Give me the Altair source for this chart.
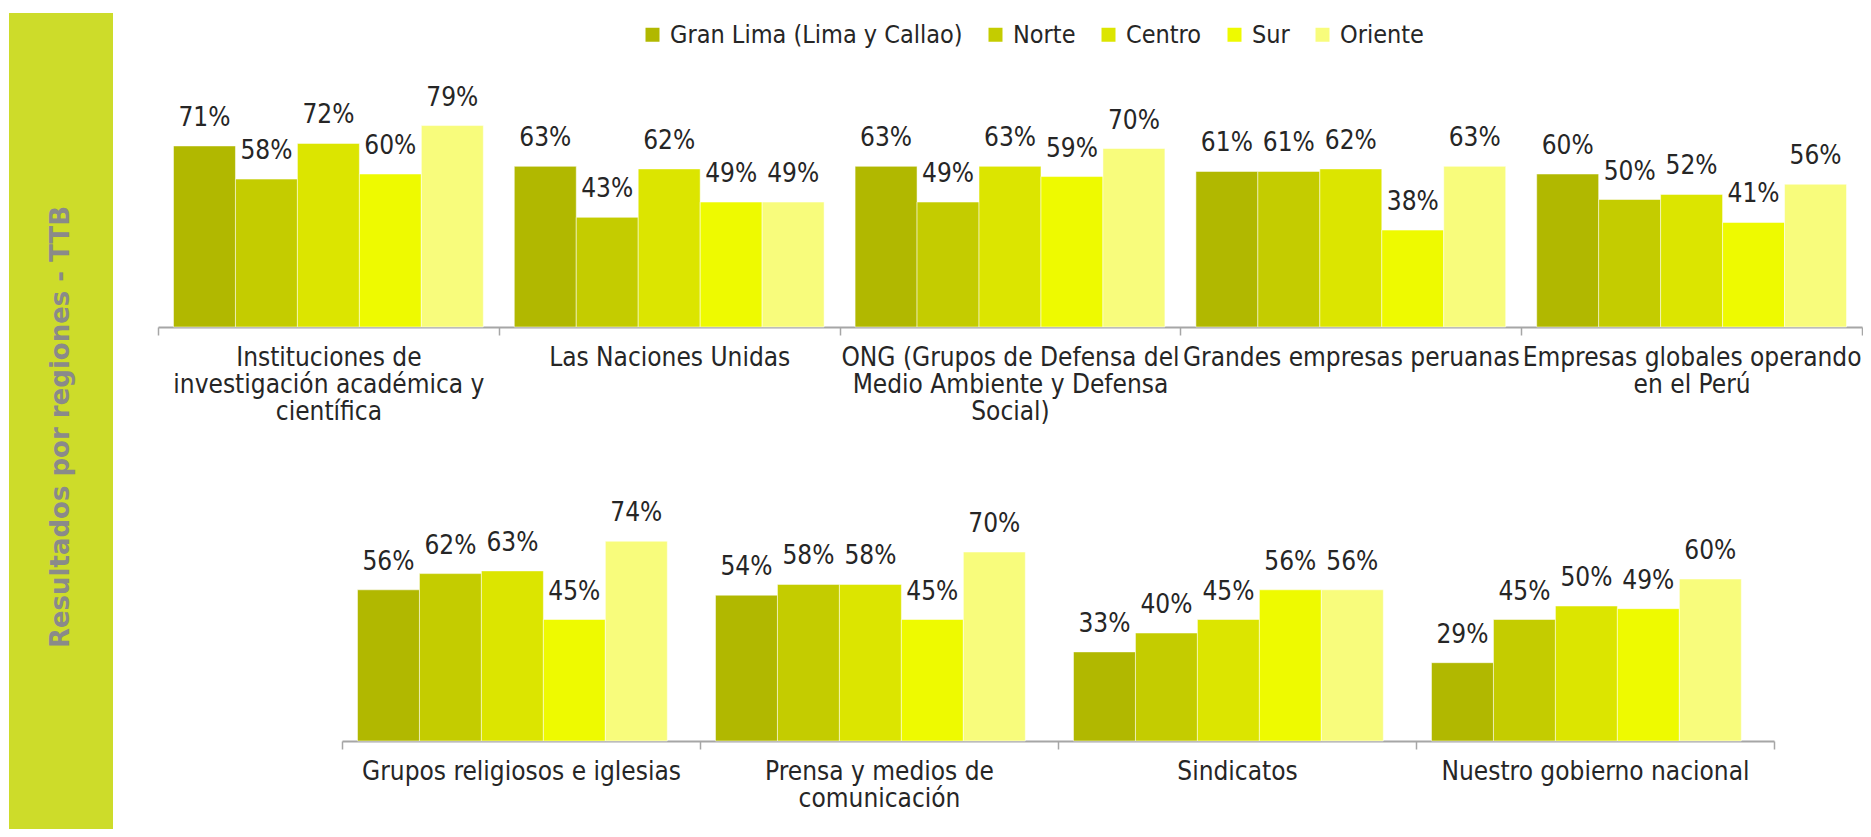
import altair as alt
import pandas as pd

FONT = "DejaVu Sans Condensed"
TXT = "#262626"
AX = "#A6A6A6"

regions = ["Gran Lima (Lima y Callao)", "Norte", "Centro", "Sur", "Oriente"]
colors = ["#B1B800", "#C4CC00", "#DCE500", "#EEFA00", "#F8FC7C"]

top_categories = [
    "Instituciones de|investigación académica y|científica",
    "Las Naciones Unidas",
    "ONG (Grupos de Defensa del|Medio Ambiente y Defensa|Social)",
    "Grandes empresas peruanas",
    "Empresas globales operando|en el Perú",
]
top_gran_lima = [71, 63, 63, 61, 60]
top_norte = [58, 43, 49, 61, 50]
top_centro = [72, 62, 63, 62, 52]
top_sur = [60, 49, 59, 38, 41]
top_oriente = [79, 49, 70, 63, 56]

bottom_categories = [
    "Grupos religiosos e iglesias",
    "Prensa y medios de|comunicación",
    "Sindicatos",
    "Nuestro gobierno nacional",
]
bottom_gran_lima = [56, 54, 33, 29]
bottom_norte = [62, 58, 40, 45]
bottom_centro = [63, 58, 45, 50]
bottom_sur = [45, 45, 56, 49]
bottom_oriente = [74, 70, 56, 60]

sidebar_text = "Resultados por regiones - TTB"


def build_df(cats, series):
    rows = []
    for region, vals in zip(regions, series):
        for c, v in zip(cats, vals):
            rows.append({"cat": c, "region": region, "v": v})
    return pd.DataFrame(rows)


top_df = build_df(top_categories, [top_gran_lima, top_norte, top_centro, top_sur, top_oriente])
bottom_df = build_df(bottom_categories, [bottom_gran_lima, bottom_norte, bottom_centro, bottom_sur, bottom_oriente])


def panel(df, cats, xrange=None, legend=None):
    scale_kw = dict(paddingInner=0, paddingOuter=0)
    if xrange is not None:
        scale_kw["range"] = xrange
    x = alt.X(
        "cat:N",
        sort=cats,
        scale=alt.Scale(**scale_kw),
        axis=alt.Axis(
            title=None,
            labelExpr="split(datum.label, '|')",
            labelFont=FONT,
            labelFontSize=26,
            labelColor=TXT,
            labelLineHeight=27,
            labelLimit=500,
            labelOverlap=False,
            labelPadding=9,
            labelAngle=0,
            labelBaseline="top",
            tickBand="extent",
            tickSize=8,
            tickColor=AX,
            tickWidth=1.5,
            domainColor=AX,
            domainWidth=2,
        ),
    )
    xo = alt.XOffset("region:N", sort=regions, scale=alt.Scale(paddingInner=0, paddingOuter=0.25))
    y = alt.Y("v:Q", scale=alt.Scale(domain=[0, 100]), axis=None)
    color = alt.Color(
        "region:N",
        sort=regions,
        scale=alt.Scale(domain=regions, range=colors),
        legend=legend,
    )
    base = alt.Chart(df)
    bars = base.mark_bar(stroke="white", strokeWidth=1, strokeOpacity=0.5).encode(
        x=x, xOffset=xo, y=y, color=color
    )
    labels = base.transform_calculate(lbl="datum.v + '%'").mark_text(
        font=FONT, fontSize=26, color=TXT, baseline="middle", dy=-28
    ).encode(x=x, xOffset=xo, y=y, text="lbl:N")
    return bars, labels


legend = alt.Legend(
    orient="none",
    legendX=482,
    legendY=-50,
    direction="horizontal",
    title=None,
    padding=0,
    symbolType="square",
    symbolSize=196,
    symbolStrokeWidth=0,
    labelFont=FONT,
    labelFontSize=25,
    labelColor=TXT,
    labelOffset=5,
    columnPadding=20,
    labelLimit=400,
)

top_bars, top_labels = panel(top_df, top_categories, legend=legend)
bot_bars, bot_labels = panel(bottom_df, bottom_categories, xrange=[184, 1616], legend=None)

side_df = pd.DataFrame({"t": [sidebar_text]})
side_rect = alt.Chart(side_df).mark_rect(color="#CDDC2A").encode(
    x=alt.value(-149), x2=alt.value(-45), y=alt.value(-59), y2=alt.value(757)
)
side_txt = alt.Chart(side_df).mark_text(
    font="DejaVu Sans", fontSize=26, fontWeight="bold", color="#8A8A8A",
    angle=270, align="center", baseline="middle"
).encode(x=alt.value(-97), y=alt.value(355), text="t:N")

top = alt.layer(side_rect, side_txt, top_bars, top_labels).properties(width=1704, height=255)
bottom = alt.layer(bot_bars, bot_labels).properties(width=1704, height=270)

chart = (
    alt.vconcat(top, bottom, spacing=144, bounds="flush")
    .resolve_legend(color="independent")
    .configure_view(stroke=None)
    .properties(padding={"left": 1, "top": 5, "right": 0, "bottom": 0}, background="white")
)

chart.save("out.html", embed_options={"renderer": "svg", "actions": False})
